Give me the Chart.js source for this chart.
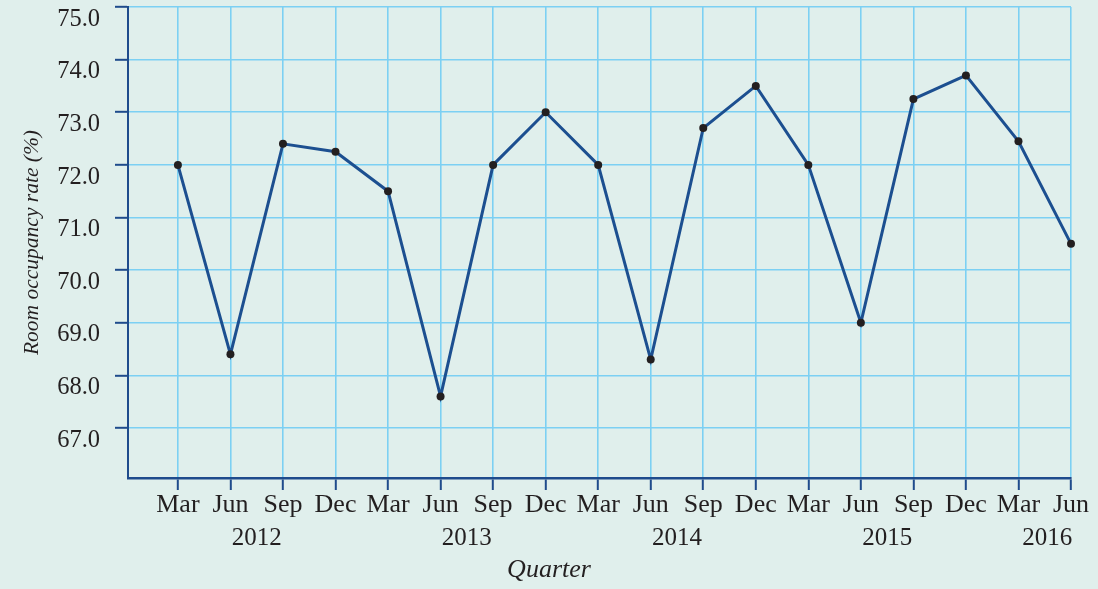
<!DOCTYPE html>
<html>
<head>
<meta charset="utf-8">
<script src="https://cdn.jsdelivr.net/npm/chart.js@4/dist/chart.umd.min.js"></script>
<style>
  html, body { margin: 0; padding: 0; background: #e0efec; }
  #wrap { width: 1098px; height: 589px; position: relative; }
</style>
</head>
<body>
<div id="wrap"><canvas id="c" width="1098" height="589"></canvas></div>
<script>
// ---- data ----
const quarters = ['Mar','Jun','Sep','Dec','Mar','Jun','Sep','Dec','Mar','Jun','Sep','Dec','Mar','Jun','Sep','Dec','Mar','Jun'];
const occupancy = [72.0, 68.4, 72.4, 72.25, 71.5, 67.6, 72.0, 73.0, 72.0, 68.3, 72.7, 73.5, 72.0, 69.0, 73.25, 73.7, 72.45, 70.5];
const years = ['2012', '2013', '2014', '2015', '2016'];
const yearAt = [1.5, 5.5, 9.5, 13.5, 16.55];   // category positions (between quarters)
const yTicks = [67, 68, 69, 70, 71, 72, 73, 74, 75];
const yTitle = 'Room occupancy rate (%)';
const xTitle = 'Quarter';

// ---- styles ----
const GRID = '#7cd0f3';
const AXIS = '#1f4b8c';
const LINE = '#1c4f90';
const TEXT = '#231f20';
const SERIF = '"Liberation Serif", "Times New Roman", serif';

const points = occupancy.map((v, i) => ({ x: i, y: v }));

const extraText = {
  id: 'extraText',
  afterDraw(chart) {
    const ctx = chart.ctx;
    const xs = chart.scales.x;
    ctx.save();
    ctx.fillStyle = TEXT;
    ctx.textAlign = 'center';
    ctx.textBaseline = 'middle';
    ctx.font = '25px ' + SERIF;
    years.forEach((y, i) => {
      ctx.fillText(y, xs.getPixelForValue(yearAt[i]), 538);
    });
    ctx.font = 'italic 26px ' + SERIF;
    ctx.fillText(xTitle, chart.width / 2, 570);
    ctx.restore();
  }
};

new Chart(document.getElementById('c'), {
  type: 'line',
  data: {
    datasets: [{
      data: points,
      borderColor: LINE,
      borderWidth: 3,
      pointRadius: 4,
      pointBackgroundColor: TEXT,
      pointBorderColor: TEXT,
      pointBorderWidth: 0,
      tension: 0,
      clip: false
    }]
  },
  options: {
    responsive: false,
    animation: false,
    events: [],
    layout: { padding: { left: 0, top: 7, right: 27, bottom: 0 } },
    plugins: { legend: { display: false }, tooltip: { enabled: false } },
    scales: {
      x: {
        type: 'linear',
        min: -0.95,
        max: quarters.length - 1,
        afterBuildTicks: s => { s.ticks = quarters.map((_, i) => ({ value: i })); },
        afterFit: s => { s.height = 111; s.paddingLeft = 0; s.paddingRight = 0; },
        grid: { color: GRID, lineWidth: 1.6, tickColor: AXIS, tickLength: 12, tickWidth: 2, drawOnChartArea: true },
        border: { color: AXIS, width: 2.5 },
        ticks: {
          autoSkip: false,
          maxRotation: 0,
          padding: 0,
          color: TEXT,
          font: { family: SERIF, size: 26 },
          callback: v => quarters[v]
        }
      },
      y: {
        min: 66.05,
        max: 75,
        afterBuildTicks: s => { s.ticks = yTicks.map(v => ({ value: v })); },
        afterFit: s => { s.width = 128; s.paddingTop = 0; s.paddingBottom = 0; },
        grid: { color: GRID, lineWidth: 1.6, tickColor: AXIS, tickLength: 13, tickWidth: 2 },
        border: { color: AXIS, width: 2 },
        ticks: {
          align: 'start',
          padding: 15,
          color: TEXT,
          font: { family: SERIF, size: 24.5 },
          callback: v => v.toFixed(1)
        },
        title: {
          display: true,
          text: yTitle,
          color: TEXT,
          font: { family: SERIF, size: 21.5, style: 'italic' },
          padding: { top: 19, bottom: 0 }
        }
      }
    }
  },
  plugins: [extraText]
});
</script>
</body>
</html>
